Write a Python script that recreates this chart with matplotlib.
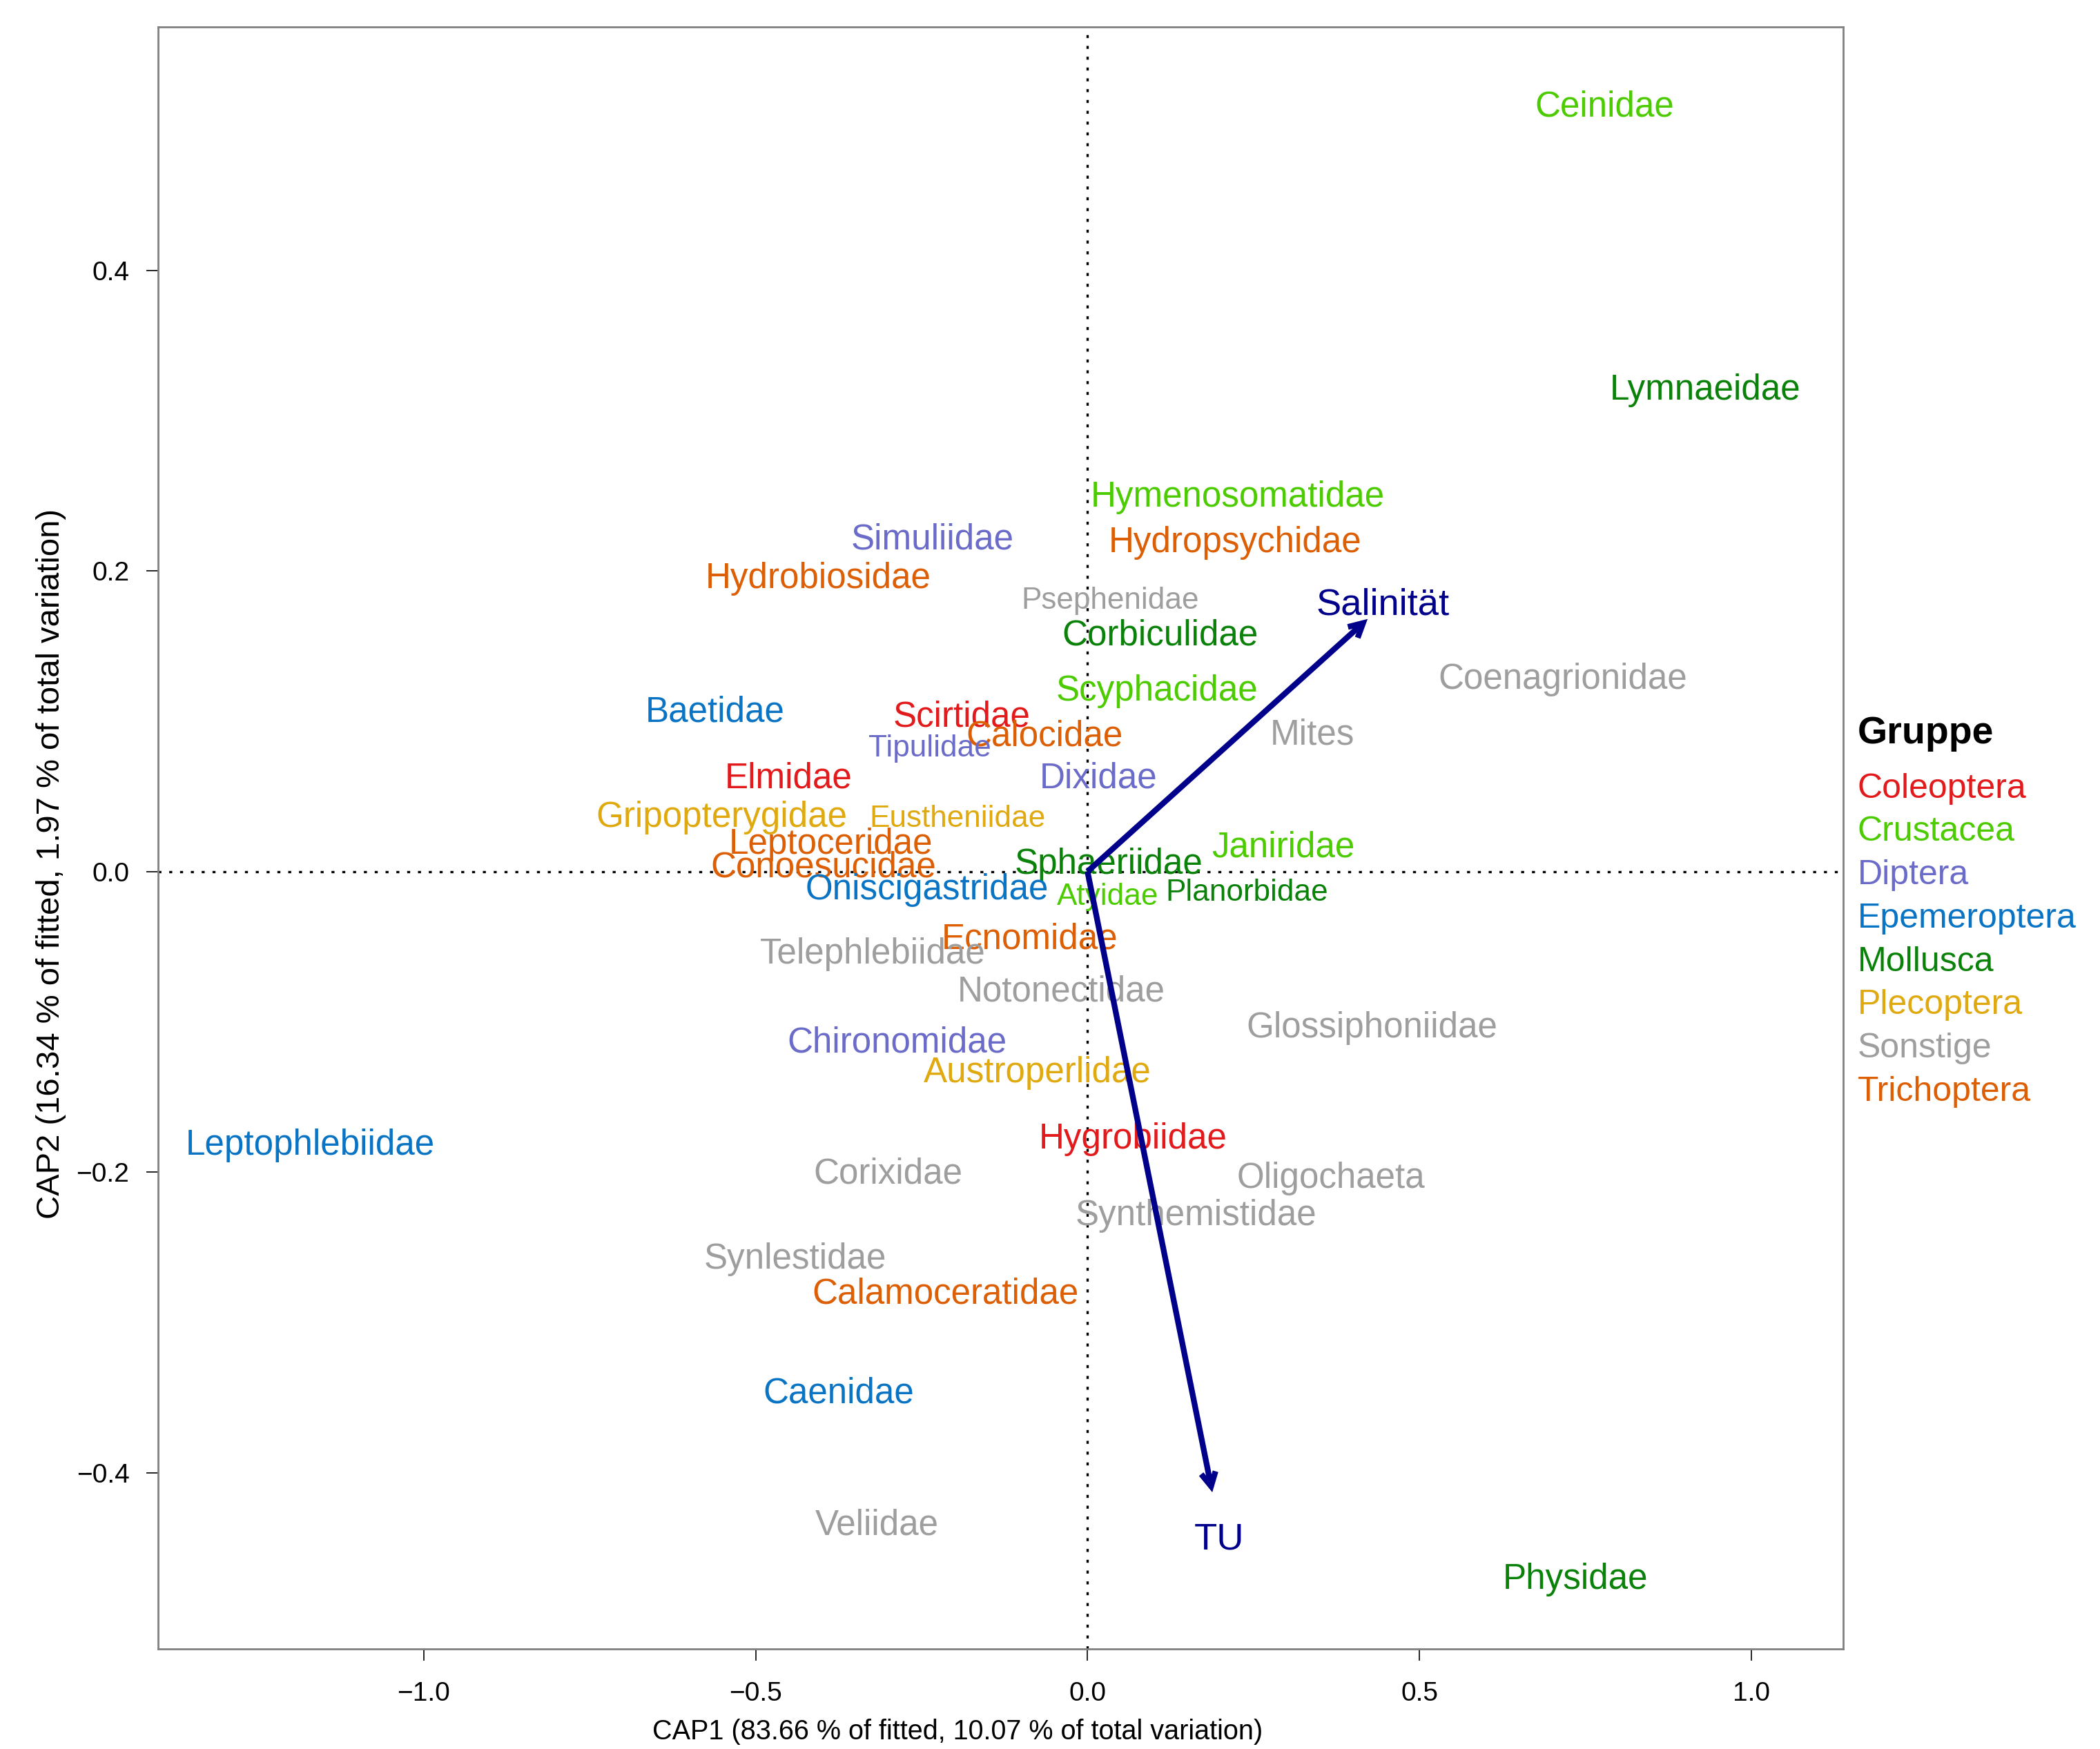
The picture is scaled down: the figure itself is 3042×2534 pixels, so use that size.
import matplotlib
matplotlib.use("Agg")
import matplotlib.pyplot as plt
from matplotlib.patches import FancyArrowPatch

plt.rcParams['font.family'] = ['Liberation Sans', 'DejaVu Sans']

# ---------------- data ----------------
taxa = ["Ceinidae", "Lymnaeidae", "Hymenosomatidae", "Hydropsychidae", "Simuliidae",
        "Hydrobiosidae", "Psephenidae", "Corbiculidae", "Coenagrionidae", "Scyphacidae",
        "Baetidae", "Scirtidae", "Calocidae", "Tipulidae", "Mites", "Dixidae", "Elmidae",
        "Gripopterygidae", "Eustheniidae", "Janiridae", "Leptoceridae", "Conoesucidae",
        "Sphaeriidae", "Oniscigastridae", "Atyidae", "Planorbidae", "Ecnomidae",
        "Telephlebiidae", "Notonectidae", "Glossiphoniidae", "Chironomidae",
        "Austroperlidae", "Leptophlebiidae", "Hygrobiidae", "Oligochaeta", "Corixidae",
        "Synthemistidae", "Synlestidae", "Calamoceratidae", "Caenidae", "Veliidae",
        "Physidae"]
cap1 = [0.779, 0.930, 0.226, 0.222, -0.234,
        -0.406, 0.034, 0.109, 0.716, 0.105,
        -0.561, -0.190, -0.065, -0.238, 0.339, 0.016, -0.450,
        -0.551, -0.196, 0.295, -0.387, -0.398,
        0.032, -0.242, 0.030, 0.240, -0.087,
        -0.323, -0.040, 0.428, -0.287,
        -0.075, -1.171, 0.069, 0.367, -0.301,
        0.163, -0.440, -0.214, -0.375, -0.317,
        0.735]
cap2 = [0.511, 0.3225, 0.251, 0.221, 0.223,
        0.197, 0.182, 0.159, 0.130, 0.122,
        0.108, 0.105, 0.092, 0.084, 0.093, 0.064, 0.064,
        0.038, 0.037, 0.018, 0.020, 0.005,
        0.007, -0.010, -0.015, -0.012, -0.043,
        -0.053, -0.078, -0.102, -0.112,
        -0.132, -0.180, -0.176, -0.202, -0.199,
        -0.227, -0.256, -0.279, -0.345, -0.433,
        -0.469]
gruppe = ["Crustacea", "Mollusca", "Crustacea", "Trichoptera", "Diptera",
          "Trichoptera", "Sonstige", "Mollusca", "Sonstige", "Crustacea",
          "Epemeroptera", "Coleoptera", "Trichoptera", "Diptera", "Sonstige", "Diptera", "Coleoptera",
          "Plecoptera", "Plecoptera", "Crustacea", "Trichoptera", "Trichoptera",
          "Mollusca", "Epemeroptera", "Crustacea", "Mollusca", "Trichoptera",
          "Sonstige", "Sonstige", "Sonstige", "Diptera",
          "Plecoptera", "Epemeroptera", "Coleoptera", "Sonstige", "Sonstige",
          "Sonstige", "Sonstige", "Trichoptera", "Epemeroptera", "Sonstige",
          "Mollusca"]

env_names = ["Salinität", "TU"]
env_cap1 = [0.422, 0.188]
env_cap2 = [0.168, -0.413]

groups = ["Coleoptera", "Crustacea", "Diptera", "Epemeroptera", "Mollusca",
          "Plecoptera", "Sonstige", "Trichoptera"]

xticks = [-1.0, -0.5, 0.0, 0.5, 1.0]
yticks = [-0.4, -0.2, 0.0, 0.2, 0.4]
xticklabels = ["\u22121.0", "\u22120.5", "0.0", "0.5", "1.0"]
yticklabels = ["\u22120.4", "\u22120.2", "0.0", "0.2", "0.4"]
xlabel = "CAP1 (83.66 % of fitted, 10.07 % of total variation)"
ylabel = "CAP2 (16.34 % of fitted, 1.97 % of total variation)"

# ---------------- style ----------------
colors = {"Coleoptera": "#E31A1C", "Crustacea": "#4CCC00", "Diptera": "#6B6BC9",
          "Epemeroptera": "#0A74C4", "Mollusca": "#0A820A", "Plecoptera": "#E0A90F",
          "Sonstige": "#9E9E9E", "Trichoptera": "#DD5F05"}
small_labels = {"Psephenidae", "Tipulidae", "Eustheniidae", "Atyidae", "Planorbidae"}
fs_big, fs_small = 18.4, 15.9
arrow_col = "#00008B"

fig = plt.figure(figsize=(3042 / 200, 2534 / 200), dpi=200)
ax = fig.add_axes([0.0753, 0.0574, 0.8776 - 0.0753, 0.9847 - 0.0574])
ax.set_xlim(-1.40, 1.138)
ax.set_ylim(-0.517, 0.562)

ax.axhline(0, color="black", lw=1.2, ls=(0, (1.3, 3.4)), dash_capstyle="butt", zorder=1)
ax.axvline(0, color="black", lw=1.2, ls=(0, (1.3, 3.4)), dash_capstyle="butt", zorder=1)

for name, x, y, g in zip(taxa, cap1, cap2, gruppe):
    fs = fs_small if name in small_labels else fs_big
    ax.annotate(name, (x, y), xytext=(0, -0.358 * fs), textcoords="offset points",
                ha="center", va="baseline", fontsize=fs, color=colors[g], zorder=3)

for name, x, y in zip(env_names, env_cap1, env_cap2):
    arr = FancyArrowPatch((0, 0), (x, y), arrowstyle="->,head_length=0.36,head_width=0.19",
                          mutation_scale=20, color=arrow_col, lw=3.0,
                          shrinkA=0, shrinkB=0, zorder=4, capstyle="butt", joinstyle="miter")
    ax.add_patch(arr)
    fs = 19.6
    ax.annotate(name, (x * 1.055, y * 1.07), xytext=(0, -0.358 * fs), textcoords="offset points",
                ha="center", va="baseline", fontsize=fs, color=arrow_col, zorder=4)

ax.set_xticks(xticks)
ax.set_xticklabels(xticklabels)
ax.set_yticks(yticks)
ax.set_yticklabels(yticklabels)
ax.tick_params(axis="both", labelsize=14, length=6, width=0.6, color="black")
ax.tick_params(axis="x", pad=11)
ax.tick_params(axis="y", pad=9)
for s in ax.spines.values():
    s.set_color("#808080")
    s.set_linewidth(1.0)

fig.text(715 / 1568, 1 - 1293 / 1306, xlabel, fontsize=14.25, ha="center", va="center")
fig.text(38 / 1568, 1 - 645 / 1306, ylabel, fontsize=17, ha="center", va="center",
         rotation=90)

# legend as text
fig.text(0.8846, 1 - 548 / 1306, "Gruppe", fontsize=20, fontweight="bold",
         ha="left", va="center", color="black")
for i, g in enumerate(groups):
    fig.text(0.8846, 1 - (589 + 32.3 * i) / 1306, g, fontsize=18, color=colors[g],
             ha="left", va="center")

fig.savefig("out.png", dpi=200, facecolor="white")
